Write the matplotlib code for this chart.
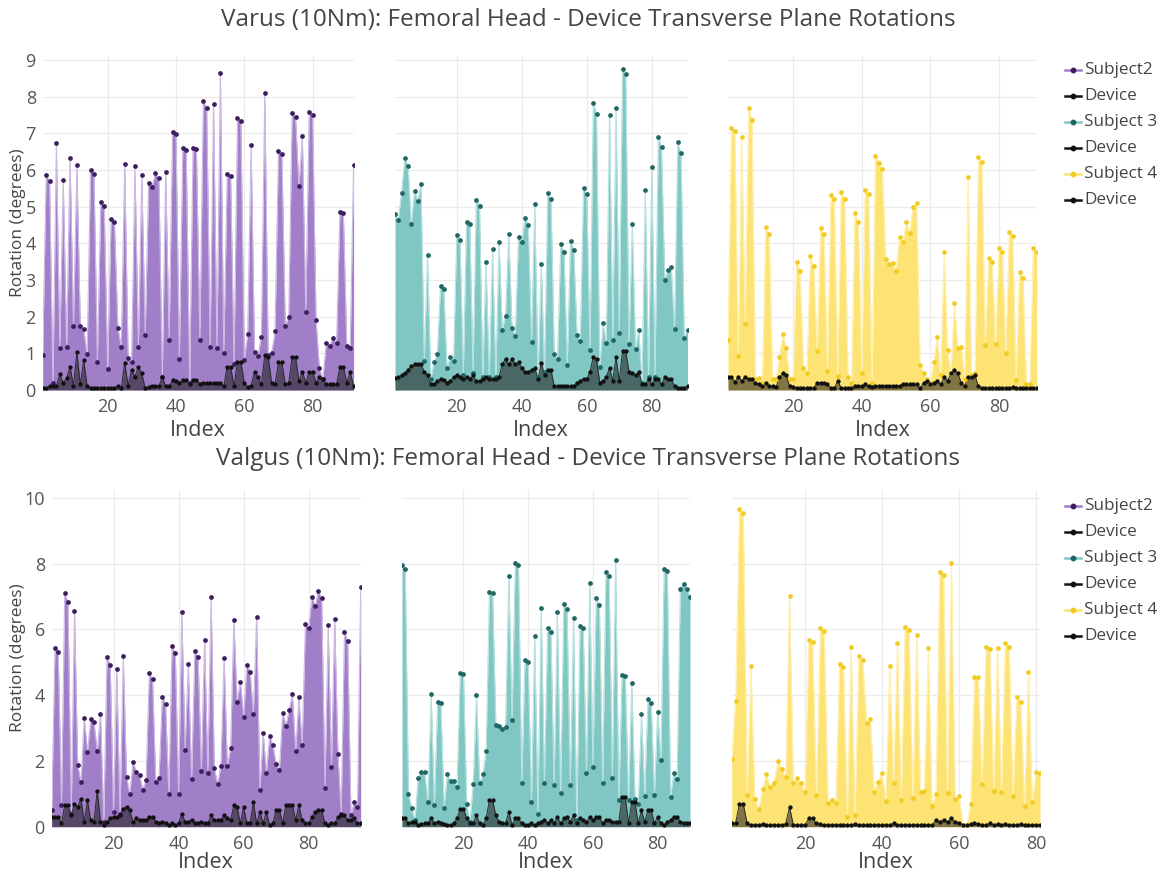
import matplotlib
matplotlib.use('Agg')
import matplotlib.pyplot as plt
from matplotlib.lines import Line2D
import numpy as np

# ---------------- data ----------------
varus_s2 = [0.95,5.85,5.7,0.18,6.73,1.15,5.73,1.18,6.32,1.75,
            6.14,1.75,1.65,0.97,6.0,5.88,0.77,5.12,5.03,0.56,
            4.66,4.57,1.7,1.18,6.15,0.88,0.77,6.1,1.18,5.85,
            1.5,5.64,5.54,5.93,5.77,0.36,5.94,1.36,7.04,6.97,
            0.84,6.6,6.55,0.2,6.6,6.57,1.36,7.88,7.68,1.18,
            7.79,1.15,8.64,1.0,5.9,5.84,0.7,7.41,7.34,0.82,
            1.54,6.68,1.03,0.93,1.45,8.11,0.95,1.0,1.6,6.53,
            6.44,1.75,2.0,7.55,7.44,5.55,6.93,2.12,7.59,7.5,
            1.91,0.59,0.3,1.29,1.21,1.43,1.27,4.86,4.82,1.21,
            1.15,6.14]
varus_d2 = [0.05,0.05,0.1,0.1,0.1,0.43,0.2,0.32,0.64,0.12,
            1.03,0.15,0.82,0.1,0.05,0.05,0.05,0.05,0.05,0.05,
            0.05,0.05,0.1,0.05,0.73,0.12,0.55,0.36,0.64,0.45,
            0.05,0.08,0.1,0.1,0.1,0.36,0.1,0.1,0.27,0.25,
            0.2,0.27,0.27,0.15,0.28,0.28,0.15,0.2,0.2,0.18,
            0.18,0.2,0.2,0.1,0.64,0.64,0.1,0.77,0.77,0.2,
            0.08,0.12,0.5,0.36,0.15,0.95,0.9,0.2,0.15,0.75,
            0.75,0.15,0.2,0.9,0.9,0.25,0.5,0.2,0.5,0.5,
            0.2,0.35,0.3,0.15,0.15,0.15,0.15,0.64,0.64,0.2,
            0.5,0.1]
varus_s3 = [4.79,4.64,5.36,6.32,6.11,4.53,5.43,5.16,5.61,0.79,
            3.68,0.3,0.75,0.97,2.84,2.75,0.59,0.91,0.79,4.23,
            4.09,0.4,4.59,4.52,0.45,5.19,5.03,0.35,3.48,0.35,
            3.84,0.35,4.04,1.64,2.02,4.25,1.7,1.48,4.18,4.03,
            4.7,4.5,1.31,5.06,0.35,3.43,0.5,5.36,5.2,0.97,
            0.84,3.97,3.77,0.68,4.06,3.82,1.5,1.34,5.52,5.34,
            1.08,7.84,7.52,0.62,1.82,1.27,7.5,1.36,7.7,1.55,
            8.75,8.61,1.25,4.53,1.12,1.64,0.2,5.45,0.35,6.07,
            0.35,6.89,6.62,3.0,3.27,3.36,1.65,6.75,6.45,1.43,
            1.64]
varus_d3 = [0.32,0.35,0.4,0.45,0.55,0.65,0.7,0.7,0.7,0.5,
            0.4,0.15,0.15,0.25,0.3,0.28,0.2,0.25,0.35,0.4,
            0.35,0.3,0.35,0.3,0.4,0.25,0.25,0.3,0.35,0.3,
            0.3,0.3,0.35,0.7,0.85,0.7,0.85,0.7,0.75,0.6,
            0.5,0.5,0.55,0.6,0.3,0.73,0.4,0.55,0.55,0.1,
            0.1,0.1,0.12,0.1,0.1,0.12,0.2,0.25,0.3,0.3,
            0.5,0.9,0.85,0.2,0.25,0.35,0.6,0.25,0.9,0.25,
            1.05,1.05,0.5,0.45,0.4,0.5,0.15,0.15,0.3,0.15,
            0.3,0.3,0.15,0.35,0.3,0.3,0.1,0.05,0.05,0.05,
            0.1]
varus_s4 = [1.36,7.14,7.06,0.94,6.89,1.79,7.68,7.36,0.3,0.34,
            0.2,4.44,4.25,0.3,0.3,0.91,1.52,1.15,0.3,0.3,
            3.5,3.25,0.61,0.47,3.65,3.38,1.06,4.43,4.25,0.53,
            5.32,5.21,0.38,5.41,5.2,0.36,0.2,4.82,4.57,0.47,
            5.45,5.34,0.18,6.38,6.2,6.02,3.56,3.44,3.45,3.25,
            4.16,4.03,4.58,4.29,5.0,5.11,0.68,0.47,0.3,0.2,
            0.77,1.45,0.41,3.75,1.09,0.47,2.38,1.14,1.18,0.3,
            5.82,0.41,0.45,6.36,6.23,1.23,3.59,3.5,1.25,3.86,
            3.77,1.0,4.32,4.2,0.27,3.23,3.05,0.15,0.15,3.86,
            3.77]
varus_d4 = [0.36,0.36,0.22,0.36,0.25,0.36,0.3,0.3,0.2,0.15,
            0.1,0.2,0.12,0.1,0.08,0.35,0.45,0.4,0.1,0.08,
            0.05,0.05,0.05,0.05,0.05,0.05,0.2,0.2,0.2,0.15,
            0.05,0.05,0.25,0.05,0.05,0.05,0.05,0.1,0.1,0.1,
            0.15,0.1,0.08,0.1,0.1,0.12,0.12,0.12,0.12,0.12,
            0.12,0.15,0.15,0.15,0.15,0.15,0.05,0.2,0.25,0.15,
            0.2,0.25,0.15,0.35,0.25,0.45,0.55,0.45,0.2,0.1,
            0.35,0.35,0.4,0.1,0.05,0.05,0.05,0.05,0.05,0.05,
            0.05,0.05,0.05,0.08,0.05,0.05,0.05,0.05,0.05,0.05,
            0.05]

valgus_s2 = [0.5,5.44,5.32,0.66,7.09,6.84,0.4,6.56,1.87,1.37,
             3.31,2.28,3.26,3.17,2.3,3.44,0.15,5.16,4.91,0.44,
             4.78,0.38,5.18,1.52,0.99,1.98,1.67,1.57,1.11,1.42,
             4.66,4.48,1.37,1.49,3.95,3.73,0.98,5.5,5.27,0.98,
             6.53,2.33,4.94,1.44,5.35,5.16,1.7,5.67,1.64,6.99,
             1.77,1.3,1.84,5.13,1.84,2.38,6.28,3.8,4.41,3.34,
             4.93,4.71,3.44,6.36,1.13,2.84,1.64,2.76,2.48,1.9,
             1.72,3.47,3.07,3.56,4.03,2.3,3.93,2.48,6.16,6.05,
             6.99,6.7,7.16,6.94,1.19,6.12,1.82,6.31,2.21,0.4,
             5.92,5.64,0.35,0.76,0.59,7.29]
valgus_d2 = [0.3,0.3,0.3,0.1,0.65,0.65,0.35,0.7,0.6,0.85,
             0.15,0.8,0.2,0.15,1.1,0.15,0.05,0.15,0.25,0.3,
             0.3,0.35,0.55,0.6,0.5,0.15,0.25,0.2,0.2,0.2,
             0.3,0.3,0.15,0.12,0.15,0.12,0.05,0.1,0.05,0.1,
             0.4,0.15,0.15,0.2,0.1,0.1,0.15,0.1,0.1,0.35,
             0.2,0.2,0.2,0.35,0.25,0.2,0.65,0.6,0.1,0.6,
             0.1,0.1,0.75,0.1,0.45,0.1,0.45,0.05,0.1,0.5,
             0.5,0.1,0.65,0.65,0.65,0.2,0.65,0.2,0.1,0.1,
             0.3,0.45,0.5,0.5,0.1,0.05,0.1,0.1,0.3,0.35,
             0.35,0.2,0.2,0.25,0.1,0.1]
valgus_s3 = [7.95,7.83,0.98,0.58,0.2,1.49,1.67,1.67,0.76,4.03,
             0.66,3.78,3.75,0.56,1.59,1.39,1.39,1.22,4.68,4.63,
             0.69,0.15,1.3,4.0,1.32,1.59,2.3,7.14,7.09,3.09,
             3.07,2.97,3.04,7.62,3.24,8.02,7.95,1.34,5.08,5.01,
             0.74,5.79,0.4,6.66,1.34,6.03,5.91,1.27,6.53,1.03,
             6.76,6.61,1.27,6.35,0.2,6.1,6.05,1.64,7.42,1.8,
             6.94,6.73,1.34,7.75,7.62,1.47,8.12,0.81,4.61,4.58,
             0.8,4.37,0.85,0.68,3.42,0.94,3.88,3.77,0.96,3.49,
             2.03,7.83,7.77,0.91,1.64,1.44,7.24,7.39,7.24,6.99]
valgus_d3 = [0.25,0.25,0.1,0.15,0.15,0.05,0.08,0.1,0.1,0.25,
             0.1,0.15,0.12,0.08,0.05,0.05,0.1,0.25,0.55,0.55,
             0.25,0.1,0.1,0.35,0.1,0.05,0.25,0.8,0.8,0.35,
             0.15,0.1,0.1,0.45,0.05,0.25,0.25,0.1,0.05,0.05,
             0.1,0.05,0.1,0.15,0.2,0.1,0.2,0.1,0.3,0.1,
             0.25,0.3,0.15,0.35,0.1,0.25,0.2,0.15,0.3,0.2,
             0.3,0.3,0.1,0.2,0.2,0.15,0.15,0.15,0.9,0.9,
             0.1,0.75,0.75,0.1,0.5,0.15,0.5,0.5,0.1,0.3,
             0.1,0.05,0.15,0.2,0.3,0.3,0.15,0.1,0.1,0.1]
valgus_s4 = [2.05,3.82,9.65,9.55,0.96,4.88,0.83,0.53,1.14,1.6,
             1.22,1.34,2.0,1.74,1.5,7.02,1.34,1.47,1.32,1.04,
             5.69,5.6,0.96,6.03,5.94,0.71,0.81,0.71,4.96,4.84,
             0.3,5.47,0.35,5.18,5.06,3.14,3.26,1.06,1.37,1.64,
             0.79,4.88,1.34,5.59,0.81,6.06,5.97,0.86,5.84,1.04,
             1.09,5.42,0.64,1.0,7.75,7.65,1.01,8.02,0.83,0.93,
             0.05,0.05,0.68,4.54,4.54,1.29,5.45,5.39,1.09,5.42,
             1.04,5.59,5.47,0.94,3.95,3.78,0.63,4.71,0.74,1.67,
             1.64]
valgus_d4 = [0.1,0.1,0.7,0.7,0.1,0.05,0.05,0.05,0.08,0.05,
             0.05,0.05,0.05,0.05,0.08,0.6,0.05,0.05,0.05,0.05,
             0.25,0.25,0.1,0.08,0.05,0.05,0.05,0.05,0.05,0.05,
             0.05,0.05,0.08,0.05,0.05,0.05,0.05,0.05,0.05,0.05,
             0.05,0.05,0.1,0.05,0.05,0.05,0.05,0.05,0.05,0.05,
             0.05,0.05,0.05,0.2,0.15,0.2,0.15,0.25,0.15,0.1,
             0.05,0.05,0.08,0.1,0.08,0.05,0.05,0.1,0.05,0.08,
             0.05,0.08,0.05,0.05,0.05,0.08,0.05,0.05,0.05,0.05,
             0.05]

subject_names = ["Subject2", "Subject 3", "Subject 4"]
device_name = "Device"
titles = ["Varus (10Nm): Femoral Head - Device Transverse Plane Rotations",
          "Valgus (10Nm): Femoral Head - Device Transverse Plane Rotations"]
x_ticks = [20, 40, 60, 80]
y_ticks_top = [0, 1, 2, 3, 4, 5, 6, 7, 8, 9]
y_ticks_bottom = [0, 2, 4, 6, 8, 10]

# ---------------- style ----------------
FONT = "Open Sans"
plt.rcParams['font.family'] = [FONT, 'DejaVu Sans']
W, H = 1166, 880
fig = plt.figure(figsize=(W / 100, H / 100), dpi=100)

fill_cols = ['#a07ec8', '#80c6c2', '#fde373']
line_cols = ['#cdb9e3', '#b7e2df', '#fff0b0']
mark_cols = ['#3d1d5e', '#1f6664', '#f2cc22']
dev_fill = (0.1, 0.1, 0.1, 0.55)
dev_line = '#2a2a2a'
dev_mark = '#111111'
tick_col = '#555555'
text_col = '#444444'
grid_col = '#ececec'


def add_ax(l, r, t, b):
    return fig.add_axes([l / W, 1 - b / H, (r - l) / W, (b - t) / H])


def draw_panel(ax, subj, dev, k, ylim, yticks, show_y):
    x = np.arange(1, len(subj) + 1)
    ax.set_xlim(1, len(subj))
    ax.set_ylim(*ylim)
    for s in ax.spines.values():
        s.set_visible(False)
    ax.set_xticks(x_ticks)
    ax.set_yticks(yticks)
    ax.grid(True, color=grid_col, lw=0.9, zorder=0)
    ax.set_axisbelow(True)
    ax.tick_params(length=0, labelsize=13, colors=tick_col)
    ax.tick_params(axis='x', pad=6)
    ax.tick_params(axis='y', pad=5)
    if not show_y:
        ax.set_yticklabels([])
    ax.fill_between(x, 0, subj, color=fill_cols[k], lw=0, zorder=1)
    ax.plot(x, subj, color=line_cols[k], lw=0.8, zorder=2)
    ax.fill_between(x, 0, dev, color=dev_fill, lw=0, zorder=3)
    ax.plot(x, dev, color=dev_line, lw=0.7, zorder=4)
    ax.plot(x, subj, ls='none', marker='o', ms=2.4, color=mark_cols[k], zorder=5)
    ax.plot(x, dev, ls='none', marker='o', ms=2.1, color=dev_mark, zorder=6)


rows = [
    dict(data=[(varus_s2, varus_d2), (varus_s3, varus_d3), (varus_s4, varus_d4)],
         xs=[(42.7, 353.6), (395, 687.5), (728, 1036.7)],
         top=56.3, bottom=390, ylim=(0, 9.1), yticks=y_ticks_top,
         title_y=20, index_y=430, ylab_y=223, legend_y0=70),
    dict(data=[(valgus_s2, valgus_d2), (valgus_s3, valgus_d3), (valgus_s4, valgus_d4)],
         xs=[(51.7, 360.7), (402, 690), (731.7, 1040)],
         top=489.5, bottom=826.7, ylim=(0, 10.25), yticks=y_ticks_bottom,
         title_y=459, index_y=862, ylab_y=658, legend_y0=506),
]

for r, row in enumerate(rows):
    for k, ((s, d), (l, rr)) in enumerate(zip(row['data'], row['xs'])):
        ax = add_ax(l, rr, row['top'], row['bottom'])
        draw_panel(ax, s, d, k, row['ylim'], row['yticks'], k == 0)
        fig.text(((l + rr) / 2) / W, 1 - row['index_y'] / H, "Index",
                 ha='center', va='center', fontsize=15.5, color=text_col)
    fig.text(588 / W, 1 - row['title_y'] / H, titles[r], ha='center', va='center',
             fontsize=17.5, color=text_col)
    fig.text(18 / W, 1 - row['ylab_y'] / H, "Rotation (degrees)", rotation=90,
             ha='center', va='center', fontsize=12.5, color=text_col)
    # legend
    names = []
    for k in range(3):
        names.append((subject_names[k], line_cols[k], mark_cols[k], fill_cols[k]))
        names.append((device_name, dev_line, dev_mark, None))
    for j, (nm, lc, mc, fc) in enumerate(names):
        yy = 1 - (row['legend_y0'] + 26 * j) / H
        x0, x1 = 1065 / W, 1081 / W
        fig.add_artist(Line2D([x0, x1], [yy, yy], color=(mc if fc is None else fc), lw=1.8,
                              transform=fig.transFigure))
        fig.add_artist(Line2D([(x0 + x1) / 2], [yy], ls='none', marker='o', ms=3.2,
                              color=mc, transform=fig.transFigure))
        fig.text(1084 / W, yy, nm, ha='left', va='center', fontsize=12.3, color=text_col)

fig.savefig('out.png', dpi=100, facecolor='white')
